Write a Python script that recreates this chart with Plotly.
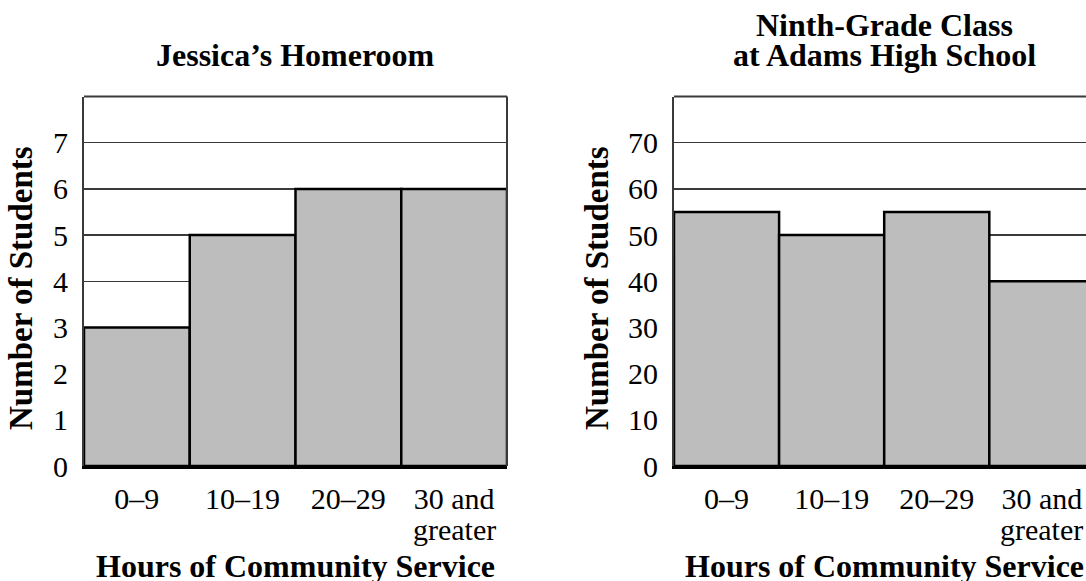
import plotly.graph_objects as go

# ---- data ----
categories = ["0–9", "10–19", "20–29", "30 and greater"]
tick_line1 = ["0–9", "10–19", "20–29", "30 and"]
tick_line2 = ["", "", "", "greater"]
jessica_counts = [3, 5, 6, 6]
adams_counts = [55, 50, 55, 40]
left_yticks = [0, 1, 2, 3, 4, 5, 6, 7]
right_yticks = [0, 10, 20, 30, 40, 50, 60, 70]

left_title = "Jessica’s Homeroom"
right_title_lines = ["Ninth-Grade Class", "at Adams High School"]
x_title = "Hours of Community Service"
y_title = "Number of Students"

# ---- layout helpers (pixel -> paper) ----
W, H = 1086, 581
def px_x(p):
    return p / W
def px_y(p):
    return 1 - p / H

FONT = "Liberation Serif"
BAR_FILL = "#bdbdbd"
FRAME = "#3a3a3a"
TICK_SIZE = 30
TITLE_SIZE = 32
YTITLE_SIZE = 33

L_DOM = [px_x(84), px_x(507)]
R_DOM = [px_x(674), 1.0]
Y_DOM = [px_y(466), px_y(96.5)]

fig = go.Figure()
fig.add_trace(go.Bar(
    x=categories, y=jessica_counts, xaxis="x", yaxis="y", width=1,
    marker=dict(color=BAR_FILL, line=dict(color="black", width=2.5)),
    hoverinfo="skip"))
fig.add_trace(go.Bar(
    x=categories, y=adams_counts, xaxis="x2", yaxis="y2", width=1,
    marker=dict(color=BAR_FILL, line=dict(color="black", width=2.5)),
    hoverinfo="skip"))

xcommon = dict(type="category", showgrid=False, zeroline=False, ticks="",
               showline=True, linecolor="black", linewidth=3,
               tickvals=categories, ticktext=tick_line1,
               tickfont=dict(family=FONT, size=TICK_SIZE, color="black"),
               ticklabelstandoff=4, automargin=False, fixedrange=True)
ycommon = dict(showgrid=True, gridcolor=FRAME, gridwidth=1.5, zeroline=False,
               ticks="", showline=True, linecolor=FRAME, linewidth=2,
               tickfont=dict(family=FONT, size=TICK_SIZE, color="black"),
               ticklabelstandoff=8, automargin=False, fixedrange=True)

fig.update_layout(
    width=W, height=H,
    margin=dict(l=0, r=0, t=0, b=0),
    paper_bgcolor="white", plot_bgcolor="white",
    showlegend=False, bargap=0,
    font=dict(family=FONT, color="black"),
    xaxis=dict(domain=L_DOM, anchor="y", range=[-0.5, 3.5], **xcommon),
    yaxis=dict(domain=Y_DOM, anchor="x", range=[0, 8], tickvals=left_yticks, **ycommon),
    xaxis2=dict(domain=R_DOM, anchor="y2", range=[-0.5, 3.42], **xcommon),
    yaxis2=dict(domain=Y_DOM, anchor="x2", range=[0, 80], tickvals=right_yticks, **ycommon),
)

# frame lines (top / right) in paper coordinates
fig.add_shape(type="line", xref="paper", yref="paper", x0=L_DOM[0], x1=L_DOM[1],
              y0=Y_DOM[1], y1=Y_DOM[1], line=dict(color=FRAME, width=2))
fig.add_shape(type="line", xref="paper", yref="paper", x0=L_DOM[1], x1=L_DOM[1],
              y0=Y_DOM[0], y1=Y_DOM[1], line=dict(color=FRAME, width=2))
fig.add_shape(type="line", xref="paper", yref="paper", x0=R_DOM[0], x1=R_DOM[1],
              y0=Y_DOM[1], y1=Y_DOM[1], line=dict(color=FRAME, width=2))

# second line of the category tick labels, placed on the category axes
tickfont = dict(family=FONT, size=TICK_SIZE, color="black")
for xref in ("x", "x2"):
    for cat, txt in zip(categories, tick_line2):
        if txt:
            fig.add_annotation(xref=xref, yref="paper", x=cat, y=px_y(529),
                               text=txt, showarrow=False, xanchor="center",
                               yanchor="middle", font=tickfont)

bold = dict(family=FONT, size=TITLE_SIZE, color="black", weight="bold")
ybold = dict(family=FONT, size=YTITLE_SIZE, color="black", weight="bold")
ann = [
    dict(text=left_title, x=px_x(295.5), y=px_y(55), font=bold),
    dict(text=right_title_lines[0], x=px_x(884.5), y=px_y(25), font=bold),
    dict(text=right_title_lines[1], x=px_x(884.5), y=px_y(55), font=bold),
    dict(text=x_title, x=px_x(295.5), y=px_y(566), font=bold),
    dict(text=x_title, x=px_x(884.5), y=px_y(566), font=bold),
    dict(text=y_title, x=px_x(21), y=px_y(288), textangle=-90, font=ybold),
    dict(text=y_title, x=px_x(597), y=px_y(288), textangle=-90, font=ybold),
]
for a in ann:
    fig.add_annotation(xref="paper", yref="paper", showarrow=False,
                       xanchor="center", yanchor="middle", **a)

fig.write_html("out.html",
               config={"displayModeBar": False, "staticPlot": True},
               post_script="document.body.style.margin='0';document.body.style.overflow='hidden';")
